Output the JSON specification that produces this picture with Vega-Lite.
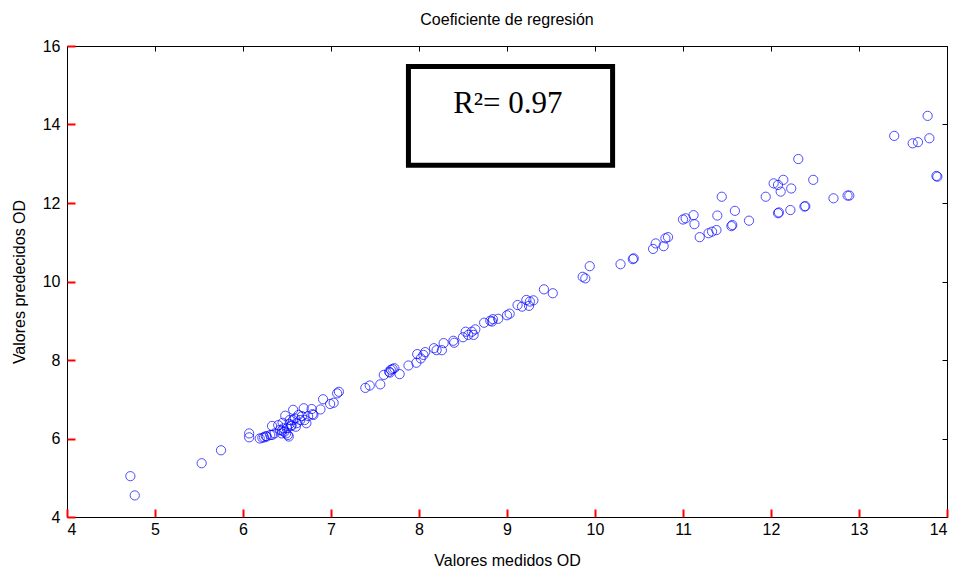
{
  "$schema": "https://vega.github.io/schema/vega-lite/v6.json",
  "width": 880,
  "height": 471,
  "autosize": {"type": "none"},
  "padding": {"left": 67, "top": 46, "right": 9, "bottom": 55},
  "background": "white",
  "config": {
    "view": {"stroke": "black", "strokeWidth": 1},
    "font": "Liberation Sans",
    "axis": {"grid": false, "domain": false, "labelColor": "black", "titleColor": "black", "labelFontSize": 16, "titleFontSize": 16, "titleFontWeight": "normal", "labelFont": "Liberation Sans", "titleFont": "Liberation Sans"}
  },
  "title": {"text": "Coeficiente de regresión", "fontSize": 16, "fontWeight": "normal", "font": "Liberation Sans", "color": "black", "offset": 10},
  "datasets": {
    "pts": [
      {"m": 4.72, "p": 5.04}, {"m": 4.77, "p": 4.55}, {"m": 5.53, "p": 5.37}, {"m": 5.75, "p": 5.70},
      {"m": 6.07, "p": 6.13}, {"m": 6.07, "p": 6.03},
      {"m": 6.19, "p": 6.00}, {"m": 6.22, "p": 6.02}, {"m": 6.24, "p": 6.03}, {"m": 6.26, "p": 6.06}, {"m": 6.27, "p": 6.05},
      {"m": 6.31, "p": 6.09}, {"m": 6.33, "p": 6.32}, {"m": 6.33, "p": 6.09}, {"m": 6.36, "p": 6.13}, {"m": 6.40, "p": 6.34},
      {"m": 6.42, "p": 6.22}, {"m": 6.44, "p": 6.13}, {"m": 6.44, "p": 6.20}, {"m": 6.45, "p": 6.40}, {"m": 6.46, "p": 6.26},
      {"m": 6.47, "p": 6.17}, {"m": 6.48, "p": 6.58}, {"m": 6.49, "p": 6.13}, {"m": 6.50, "p": 6.26}, {"m": 6.51, "p": 6.09},
      {"m": 6.52, "p": 6.05}, {"m": 6.53, "p": 6.37}, {"m": 6.53, "p": 6.47}, {"m": 6.55, "p": 6.34}, {"m": 6.55, "p": 6.32},
      {"m": 6.57, "p": 6.73}, {"m": 6.57, "p": 6.47}, {"m": 6.59, "p": 6.51}, {"m": 6.60, "p": 6.30}, {"m": 6.61, "p": 6.39},
      {"m": 6.63, "p": 6.60}, {"m": 6.65, "p": 6.47}, {"m": 6.67, "p": 6.57}, {"m": 6.69, "p": 6.77}, {"m": 6.70, "p": 6.47},
      {"m": 6.72, "p": 6.39}, {"m": 6.74, "p": 6.57}, {"m": 6.78, "p": 6.75}, {"m": 6.79, "p": 6.62}, {"m": 6.80, "p": 6.60},
      {"m": 6.88, "p": 6.74}, {"m": 6.91, "p": 7.00}, {"m": 6.99, "p": 6.88}, {"m": 7.03, "p": 6.91}, {"m": 7.07, "p": 7.15},
      {"m": 7.09, "p": 7.19},
      {"m": 7.39, "p": 7.29}, {"m": 7.44, "p": 7.35}, {"m": 7.56, "p": 7.38}, {"m": 7.60, "p": 7.62}, {"m": 7.66, "p": 7.70},
      {"m": 7.67, "p": 7.68}, {"m": 7.68, "p": 7.75}, {"m": 7.70, "p": 7.77}, {"m": 7.72, "p": 7.79}, {"m": 7.78, "p": 7.64},
      {"m": 7.88, "p": 7.86}, {"m": 7.97, "p": 7.93}, {"m": 7.98, "p": 8.15}, {"m": 8.02, "p": 8.04}, {"m": 8.05, "p": 8.13},
      {"m": 8.07, "p": 8.20}, {"m": 8.17, "p": 8.30}, {"m": 8.20, "p": 8.25}, {"m": 8.26, "p": 8.25}, {"m": 8.28, "p": 8.43},
      {"m": 8.39, "p": 8.49}, {"m": 8.40, "p": 8.44}, {"m": 8.50, "p": 8.58}, {"m": 8.53, "p": 8.72}, {"m": 8.56, "p": 8.64},
      {"m": 8.60, "p": 8.72}, {"m": 8.62, "p": 8.64}, {"m": 8.64, "p": 8.78}, {"m": 8.74, "p": 8.95}, {"m": 8.81, "p": 9.00},
      {"m": 8.83, "p": 8.98}, {"m": 8.84, "p": 9.04}, {"m": 8.90, "p": 9.05}, {"m": 9.00, "p": 9.14}, {"m": 9.03, "p": 9.18},
      {"m": 9.12, "p": 9.40}, {"m": 9.17, "p": 9.36}, {"m": 9.22, "p": 9.53}, {"m": 9.25, "p": 9.38}, {"m": 9.26, "p": 9.49},
      {"m": 9.30, "p": 9.52}, {"m": 9.42, "p": 9.80}, {"m": 9.52, "p": 9.70},
      {"m": 9.86, "p": 10.12}, {"m": 9.89, "p": 10.08}, {"m": 9.94, "p": 10.39},
      {"m": 10.29, "p": 10.44}, {"m": 10.43, "p": 10.57}, {"m": 10.44, "p": 10.59}, {"m": 10.66, "p": 10.83}, {"m": 10.69, "p": 10.97},
      {"m": 10.78, "p": 10.90}, {"m": 10.80, "p": 11.10}, {"m": 10.83, "p": 11.13}, {"m": 11.00, "p": 11.58}, {"m": 11.03, "p": 11.61},
      {"m": 11.12, "p": 11.69}, {"m": 11.13, "p": 11.46}, {"m": 11.19, "p": 11.13}, {"m": 11.29, "p": 11.23}, {"m": 11.33, "p": 11.27},
      {"m": 11.38, "p": 11.31}, {"m": 11.39, "p": 11.68}, {"m": 11.44, "p": 12.16}, {"m": 11.55, "p": 11.41}, {"m": 11.56, "p": 11.44},
      {"m": 11.59, "p": 11.80}, {"m": 11.75, "p": 11.55}, {"m": 11.94, "p": 12.16}, {"m": 12.03, "p": 12.50}, {"m": 12.08, "p": 12.46},
      {"m": 12.11, "p": 12.29}, {"m": 12.14, "p": 12.59}, {"m": 12.23, "p": 12.37}, {"m": 12.08, "p": 11.74}, {"m": 12.09, "p": 11.76},
      {"m": 12.22, "p": 11.82}, {"m": 12.38, "p": 11.91}, {"m": 12.39, "p": 11.92}, {"m": 12.31, "p": 13.12}, {"m": 12.48, "p": 12.59},
      {"m": 12.71, "p": 12.12}, {"m": 12.87, "p": 12.19}, {"m": 12.89, "p": 12.19}, {"m": 13.40, "p": 13.71}, {"m": 13.61, "p": 13.52},
      {"m": 13.67, "p": 13.55}, {"m": 13.80, "p": 13.65}, {"m": 13.78, "p": 14.22}, {"m": 13.88, "p": 12.69}, {"m": 13.89, "p": 12.67}
    ],
    "box": [{"x1": 7.88, "x2": 10.2, "y1": 12.96, "y2": 15.48, "tx": 9.01, "ty": 14.29, "label": "R²= 0.97"}]
  },
  "resolve": {"axis": {"x": "independent", "y": "independent"}},
  "layer": [
    {
      "data": {"name": "pts"},
      "mark": {"type": "point", "shape": "circle", "filled": false, "color": "#0000ff", "size": 85, "strokeWidth": 1},
      "encoding": {
        "x": {"field": "m", "type": "quantitative", "scale": {"domain": [4, 14], "nice": false, "zero": false},
              "axis": {"orient": "bottom", "title": "Valores medidos OD", "values": [4,5,6,7,8,9,10,11,12,13,14], "ticks": true, "tickSize": -8, "tickColor": "red", "tickWidth": 2, "labelPadding": 12, "titlePadding": 15}},
        "y": {"field": "p", "type": "quantitative", "scale": {"domain": [4, 16], "nice": false, "zero": false},
              "axis": {"orient": "left", "title": "Valores predecidos OD", "values": [4,6,8,10,12,14,16], "ticks": true, "tickSize": -8, "tickColor": "red", "tickWidth": 2, "labelPadding": 15, "titlePadding": 15}}
      }
    },
    {
      "data": {"name": "box"},
      "mark": {"type": "rect", "fill": "white", "stroke": "black", "strokeWidth": 5},
      "encoding": {
        "x": {"field": "x1", "type": "quantitative", "axis": {"orient": "top", "labels": false, "title": null, "values": [4,5,6,7,8,9,10,11,12,13,14], "ticks": true, "tickSize": 5, "offset": -5, "tickColor": "black"}},
        "x2": {"field": "x2"},
        "y": {"field": "y1", "type": "quantitative", "axis": {"orient": "right", "labels": false, "title": null, "values": [4,6,8,10,12,14,16], "ticks": true, "tickSize": 5, "offset": -5, "tickColor": "black"}},
        "y2": {"field": "y2"}
      }
    },
    {
      "data": {"name": "box"},
      "mark": {"type": "text", "font": "Liberation Serif", "fontSize": 31, "color": "black", "align": "center", "baseline": "alphabetic"},
      "encoding": {
        "x": {"field": "tx", "type": "quantitative", "axis": null},
        "y": {"field": "ty", "type": "quantitative", "axis": null},
        "text": {"field": "label"}
      }
    }
  ]
}
